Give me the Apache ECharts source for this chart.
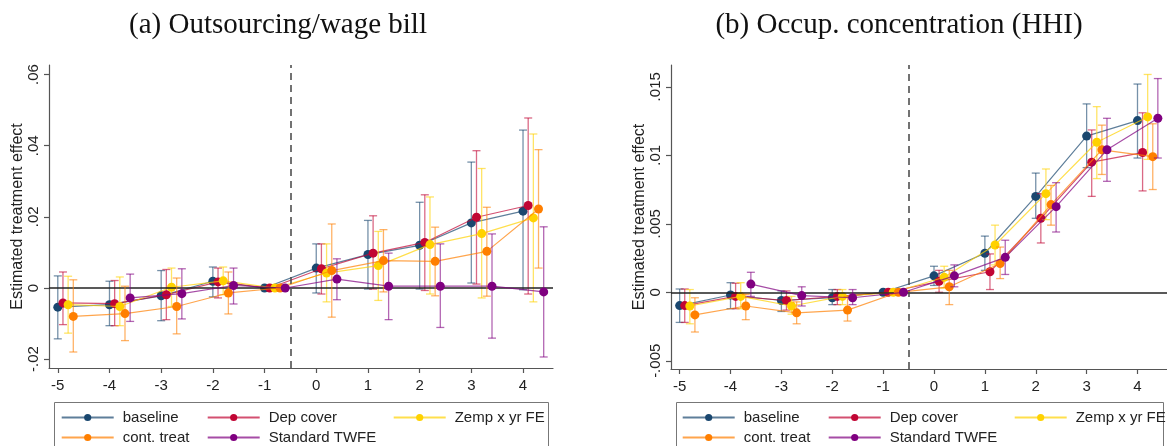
<!DOCTYPE html>
<html><head><meta charset="utf-8">
<script src="https://cdn.jsdelivr.net/npm/echarts@6/dist/echarts.min.js"></script>
<style>html,body{margin:0;padding:0;background:#fff}#c{width:1167px;height:446px}</style>
</head><body><div id="c"></div><script>
// ---------- data ----------
const years = [-5,-4,-3,-2,-1,0,1,2,3,4];
const modelNames = ['baseline','Dep cover','Zemp x yr FE','cont. treat','Standard TWFE'];

// Panel (a) Outsourcing/wage bill
const baseA    = [-0.0054,-0.0047,-0.0022,0.0019,0, 0.0056,0.0094,0.0120,0.0183,0.0216];
const baseA_lo = [-0.0143,-0.0106,-0.0092,-0.0025,null, -0.0014,-0.0003,-0.0003,0.0014,-0.0005];
const baseA_hi = [0.0034,0.0019,0.0049,0.0059,null, 0.0124,0.0190,0.0241,0.0354,0.0444];
const depA     = [-0.0042,-0.0044,-0.0019,0.0017,0, 0.0054,0.0098,0.0128,0.0199,0.0232];
const depA_lo  = [-0.0103,-0.0106,-0.0089,-0.0028,null, -0.0017,-0.0003,-0.0007,0.0011,-0.0017];
const depA_hi  = [0.0045,0.0021,0.0052,0.0056,null, 0.0124,0.0203,0.0262,0.0386,0.0478];
const zempA    = [-0.0047,-0.0052,0.0002,0.0020,0, 0.0042,0.0063,0.0122,0.0153,0.0197];
const zempA_lo = [-0.0127,-0.0106,-0.0052,-0.0019,null, -0.0039,-0.0035,-0.0017,-0.0028,-0.0039];
const zempA_hi = [0.0033,0.0031,0.0056,0.0059,null, 0.0124,0.0159,0.0256,0.0336,0.0433];
const contA    = [-0.0080,-0.0072,-0.0052,-0.0014,0, 0.0049,0.0077,0.0075,0.0103,0.0222];
const contA_lo = [-0.0180,-0.0148,-0.0129,-0.0073,null, -0.0082,-0.0011,-0.0022,-0.0023,0.0056];
const contA_hi = [0.0023,0.0005,0.0028,0.0045,null, 0.0180,0.0164,0.0171,0.0227,0.0389];
const twfeA    = [null,-0.0028,-0.0016,0.0007,0, 0.0025,0.0005,0.0005,0.0005,-0.0011];
const twfeA_lo = [null,-0.0094,-0.0087,-0.0045,null, -0.0033,-0.0089,-0.0111,-0.0141,-0.0194];
const twfeA_hi = [null,0.0039,0.0054,0.0056,null, 0.0082,0.0098,0.0124,0.0152,0.0172];

// Panel (b) Occup. concentration (HHI)
const baseB    = [-0.00097,-0.0002,-0.0006,-0.0004,0, 0.0012,0.00285,0.0070,0.0114,0.01253];
const baseB_lo = [-0.0022,-0.0012,-0.0014,-0.0009,null, 0.0005,0.0016,0.0054,0.0091,0.0098];
const baseB_hi = [0.00024,0.0007,0.0001,0.0002,null, 0.0019,0.0041,0.0087,0.01375,0.0152];
const depB     = [-0.00097,-0.0003,-0.0006,-0.0003,0, 0.0008,0.0015,0.0054,0.0095,0.0102];
const depB_lo  = [-0.0022,-0.0012,-0.0013,-0.0009,null, 0.0000,0.0002,0.0036,0.0070,0.0074];
const depB_hi  = [0.00024,0.00066,0.0001,0.0002,null, 0.0016,0.0028,0.0072,0.01185,0.0131];
const zempB    = [-0.0010,-0.0003,-0.0010,-0.0003,0, 0.0011,0.00345,0.0072,0.01095,0.0128];
const zempB_lo = [-0.0023,-0.0012,-0.0016,-0.0009,null, 0.0003,0.0020,0.0053,0.0083,0.0097];
const zempB_hi = [0.0002,0.0007,-0.0003,0.0002,null, 0.0019,0.0049,0.0090,0.01355,0.0159];
const contB    = [-0.00165,-0.0010,-0.0015,-0.0013,0, 0.0004,0.0021,0.0064,0.0104,0.0099];
const contB_lo = [-0.0029,-0.0020,-0.0023,-0.0021,null, -0.0009,0.0010,0.0049,0.0086,0.0075];
const contB_hi = [-0.0004,-0.00015,-0.0007,-0.0003,null, 0.0016,0.0033,0.0078,0.0122,0.0123];
const twfeB    = [null,0.0006,-0.00024,-0.0004,0, 0.0012,0.00255,0.00625,0.0104,0.0127];
const twfeB_lo = [null,-0.0003,-0.0010,-0.0009,null, 0.0004,0.0013,0.0044,0.0081,0.0098];
const twfeB_hi = [null,0.00146,0.0004,0.0002,null, 0.0020,0.0038,0.0080,0.0127,0.0156];

// tick values / labels
const xTicks = [-5,-4,-3,-2,-1,0,1,2,3,4];
const yTickValsA = [-0.02,0,0.02,0.04,0.06];
const yTickLabelsA = ['-.02','0','.02','.04','.06'];
const yTickValsB = [-0.005,0,0.005,0.01,0.015];
const yTickLabelsB = ['-.005','0','.005','.01','.015'];
const titles = ['(a) Outsourcing/wage bill','(b) Occup. concentration (HHI)'];
const yName = 'Estimated treatment effect';

// ---------- styling ----------
const rgbs = ['26,71,111','193,5,52','255,210,0','255,127,0','128,0,128'];
const offsets = [0,0.1,0.2,0.3,0.4];
const panels = [
  [[baseA,baseA_lo,baseA_hi],[depA,depA_lo,depA_hi],[zempA,zempA_lo,zempA_hi],[contA,contA_lo,contA_hi],[twfeA,twfeA_lo,twfeA_hi]],
  [[baseB,baseB_lo,baseB_hi],[depB,depB_lo,depB_hi],[zempB,zempB_lo,zempB_hi],[contB,contB_lo,contB_hi],[twfeB,twfeB_lo,twfeB_hi]]
];
const axisColor = '#555';
const textColor = '#222';
const sans = 'Liberation Sans';

function fmt(vals, labels){
  return v => { const i = vals.findIndex(t => Math.abs(t - v) < 1e-9); return i >= 0 ? labels[i] : ''; };
}

const grids = [
  {left:49, top:65, width:504, bottom:78},
  {left:671, top:65, width:505, bottom:77}
];
const yRanges = [[-0.0225,0.0627],[-0.0056,0.01659]];
const yVals = [yTickValsA, yTickValsB];
const yLabs = [yTickLabelsA, yTickLabelsB];

const xAxes = [], yAxes = [], series = [];
for (let g = 0; g < 2; g++) {
  xAxes.push({gridIndex:g, type:'value', min:-5.17, max:4.58,
    axisLine:{show:true, onZero:false, lineStyle:{color:axisColor, width:1.2}},
    axisTick:{show:true, customValues:xTicks, length:5, lineStyle:{color:axisColor, width:1.2}},
    axisLabel:{customValues:xTicks, fontSize:15, color:textColor, fontFamily:sans, margin:10},
    splitLine:{show:false}});
  yAxes.push({gridIndex:g, type:'value', min:yRanges[g][0], max:yRanges[g][1],
    axisLine:{show:true, onZero:false, lineStyle:{color:axisColor, width:1.2}},
    axisTick:{show:true, customValues:yVals[g], length:5, lineStyle:{color:axisColor, width:1.2}},
    axisLabel:{customValues:yVals[g], rotate:90, fontSize:15, color:textColor, fontFamily:sans, margin:8,
      formatter:fmt(yVals[g], yLabs[g])},
    splitLine:{show:false},
    name:yName, nameLocation:'middle', nameRotate:90, nameGap:23,
    nameTextStyle:{fontSize:16, color:textColor, fontFamily:sans}});
  // reference lines
  series.push({type:'line', name:'ref'+g, xAxisIndex:g, yAxisIndex:g, data:[], z:1, silent:true,
    markLine:{silent:true, symbol:'none', animation:false, label:{show:false},
      data:[
        {yAxis:0, lineStyle:{color:'#222', width:1.5, type:'solid'}},
        {xAxis:-0.5, lineStyle:{color:'#444', width:1.5, type:[7,5]}}
      ]}});
  panels[g].forEach((m, k) => {
    const [v, lo, hi] = m;
    const off = offsets[k];
    const ciColor = 'rgba(' + rgbs[k] + ',0.6)';
    const ciData = [];
    years.forEach((t, i) => { if (lo[i] != null) ciData.push([t + off, lo[i], hi[i]]); });
    series.push({type:'custom', name:modelNames[k] + ' CI', xAxisIndex:g, yAxisIndex:g, z:2+k,
      data:ciData, encode:{x:0, y:[1,2]}, silent:true,
      renderItem:(params, api) => {
        const x = api.value(0);
        const p1 = api.coord([x, api.value(2)]), p2 = api.coord([x, api.value(1)]);
        const w = 4;
        const st = {stroke:ciColor, lineWidth:1.3};
        return {type:'group', children:[
          {type:'line', shape:{x1:p1[0], y1:p1[1], x2:p2[0], y2:p2[1]}, style:st},
          {type:'line', shape:{x1:p1[0]-w, y1:p1[1], x2:p1[0]+w, y2:p1[1]}, style:st},
          {type:'line', shape:{x1:p2[0]-w, y1:p2[1], x2:p2[0]+w, y2:p2[1]}, style:st}
        ]};
      }});
    const ptData = [];
    years.forEach((t, i) => { if (v[i] != null) ptData.push([t + off, v[i]]); });
    series.push({type:'line', name:modelNames[k], xAxisIndex:g, yAxisIndex:g, z:2+k,
      data:ptData, symbol:'circle', symbolSize:9, showSymbol:true,
      itemStyle:{color:'rgb(' + rgbs[k] + ')'},
      lineStyle:{color:'rgba(' + rgbs[k] + ',0.7)', width:1.2}});
  });
}

// legends
const legends = [];
const legStart = [60.7, 681.7];
const colOff = [0, 146, 332];
const rowTop = [410, 430];
const legPos = [[0,0],[1,0],[2,0],[0,1],[1,1]];
for (let g = 0; g < 2; g++) {
  modelNames.forEach((n, k) => {
    legends.push({data:[n], left:legStart[g] + colOff[legPos[k][0]], top:rowTop[legPos[k][1]],
      padding:0, itemGap:0, itemWidth:52, itemHeight:9, selectedMode:false,
      textStyle:{fontSize:15, color:textColor, fontFamily:sans, padding:[0,0,0,4]}});
  });
}

const option = {
  animation:false,
  backgroundColor:'#fff',
  title:[
    {text:titles[0], left:278, top:11, textAlign:'center', padding:0,
     textStyle:{fontFamily:'Liberation Serif', fontSize:29, fontWeight:'normal', color:'#111'}},
    {text:titles[1], left:899, top:11, textAlign:'center', padding:0,
     textStyle:{fontFamily:'Liberation Serif', fontSize:29, fontWeight:'normal', color:'#111'}}
  ],
  grid:grids,
  xAxis:xAxes,
  yAxis:yAxes,
  legend:legends,
  graphic:[
    {type:'rect', shape:{x:54.5, y:402.5, width:494, height:60}, style:{fill:'none', stroke:'#777', lineWidth:1}},
    {type:'rect', shape:{x:676.5, y:402.5, width:487, height:60}, style:{fill:'none', stroke:'#777', lineWidth:1}}
  ],
  series:series
};
const chart = echarts.init(document.getElementById('c'), null, {renderer:'canvas'});
chart.setOption(option);
</script></body></html>
